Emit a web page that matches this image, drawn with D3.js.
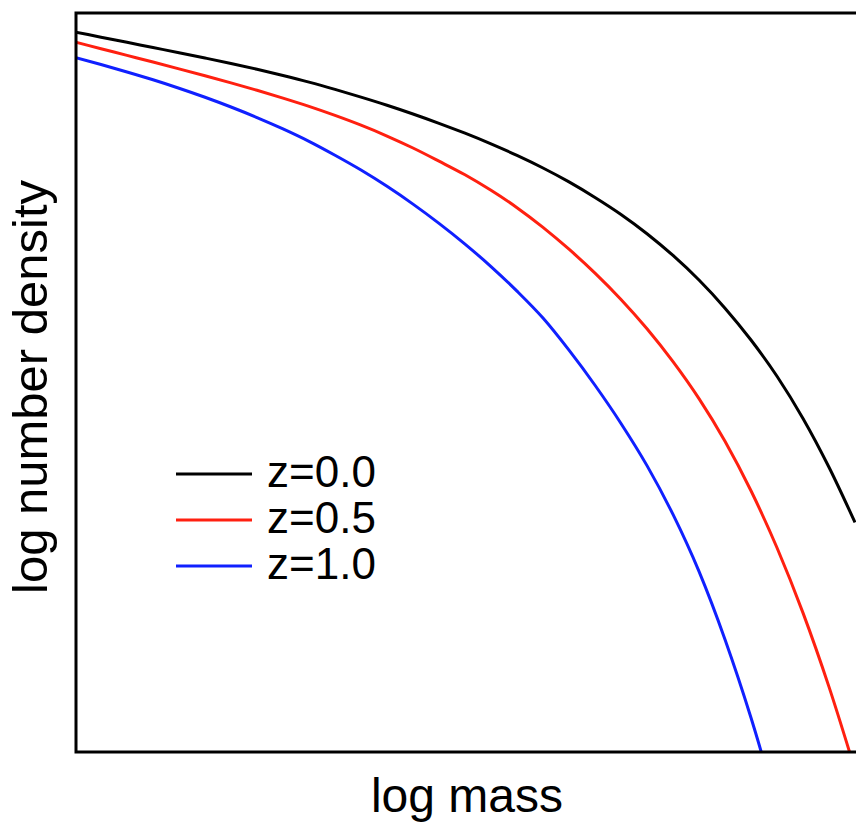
<!DOCTYPE html>
<html lang="en">
<head>
<meta charset="UTF-8"/>
<title>Mass function</title>
<script src="https://d3js.org/d3.v7.js"></script>
<style>
  body { margin: 0; background: #fff; }
  text { font-family: "Liberation Sans", Arial, Helvetica, sans-serif; fill: #000; }
</style>
</head>
<body>
<div id="chart"></div>
<script>
// log mass grid
const logMass = [9.0, 9.1, 9.2, 9.3, 9.4, 9.5, 9.6, 9.7, 9.8, 9.9,
                 10.0, 10.1, 10.2, 10.3, 10.4, 10.5, 10.6, 10.7, 10.8, 10.9,
                 11.0, 11.1, 11.2, 11.3, 11.4, 11.5, 11.6, 11.7, 11.8, 11.9, 12.0];

// log number density
const densityZ00 = [-1.135, -1.170, -1.205, -1.240, -1.275, -1.311, -1.348, -1.387, -1.429, -1.474,
                    -1.523, -1.575, -1.630, -1.689, -1.752, -1.819, -1.891, -1.969, -2.054, -2.148,
                    -2.253, -2.368, -2.498, -2.645, -2.811, -3.001, -3.216, -3.461, -3.746, -4.076, -4.449];
const densityZ05 = [-1.203, -1.248, -1.293, -1.338, -1.384, -1.431, -1.479, -1.529, -1.582, -1.638,
                    -1.699, -1.765, -1.838, -1.919, -2.008, -2.100, -2.205, -2.322, -2.455, -2.603,
                    -2.764, -2.942, -3.140, -3.362, -3.612, -3.900, -4.235, -4.620, -5.060, -5.560, -6.120];
const densityZ10 = [-1.307, -1.355, -1.405, -1.458, -1.515, -1.576, -1.642, -1.713, -1.790, -1.874,
                    -1.968, -2.068, -2.178, -2.298, -2.428, -2.568, -2.720, -2.886, -3.068, -3.285,
                    -3.522, -3.780, -4.065, -4.395, -4.780, -5.240, -5.769, -6.369];

const seriesNames = ["z=0.0", "z=0.5", "z=1.0"];
const seriesColors = ["#000000", "#ff2010", "#1020ff"];
const seriesValues = [densityZ00, densityZ05, densityZ10];

const W = 856, H = 822;
const plot = {left: 76, top: 13, right: 880, bottom: 752};

const svg = d3.select("#chart")
  .append("svg")
    .attr("width", W)
    .attr("height", H);

const x = d3.scaleLinear()
  .domain([9, 12])
  .range([75, 855]);

const y = d3.scaleLinear()
  .domain([-6, -1])
  .range([752, 12]);

svg.append("clipPath")
    .attr("id", "plotclip")
  .append("rect")
    .attr("x", plot.left)
    .attr("y", plot.top)
    .attr("width", plot.right - plot.left)
    .attr("height", plot.bottom - plot.top);

const line = d3.line()
  .curve(d3.curveMonotoneX)
  .x(d => x(d[0]))
  .y(d => y(d[1]));

svg.append("g")
    .attr("clip-path", "url(#plotclip)")
  .selectAll("path")
  .data(seriesValues)
  .join("path")
    .attr("d", vals => line(vals.map((v, i) => [logMass[i], v])))
    .attr("fill", "none")
    .attr("stroke", (d, i) => seriesColors[i])
    .attr("stroke-width", 3)
    .attr("stroke-linejoin", "round");

// box
svg.append("rect")
  .attr("x", plot.left)
  .attr("y", plot.top)
  .attr("width", plot.right - plot.left)
  .attr("height", plot.bottom - plot.top)
  .attr("fill", "none")
  .attr("stroke", "#000")
  .attr("stroke-width", 3);

// axis labels
svg.append("text")
  .attr("x", 467)
  .attr("y", 812)
  .attr("text-anchor", "middle")
  .style("font-size", "48px")
  .text("log mass");

svg.append("text")
  .attr("transform", "translate(47,387) rotate(-90)")
  .attr("text-anchor", "middle")
  .style("font-size", "49px")
  .text("log number density");

// legend
const legend = svg.append("g")
  .selectAll("g")
  .data(seriesNames)
  .join("g")
    .attr("transform", (d, i) => `translate(176,${474 + i * 46})`);

legend.append("line")
  .attr("x1", 0)
  .attr("x2", 76)
  .attr("stroke", (d, i) => seriesColors[i])
  .attr("stroke-width", 3);

legend.append("text")
  .attr("x", 91)
  .attr("y", 13)
  .style("font-size", "44px")
  .text(d => d);
</script>
</body>
</html>
